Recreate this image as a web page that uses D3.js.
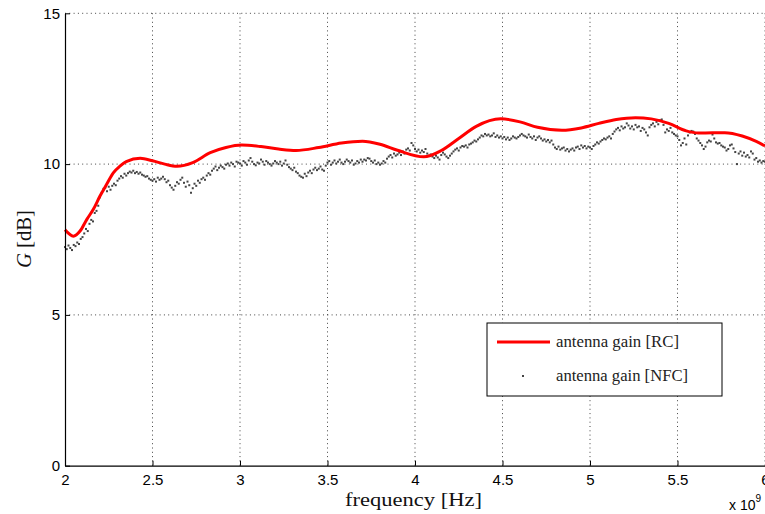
<!DOCTYPE html>
<html><head><meta charset="utf-8">
<script src="https://cdn.jsdelivr.net/npm/d3@7"></script>
<style>
html,body{margin:0;padding:0;background:#fff;}
svg{display:block;}
</style></head>
<body>
<svg id="chart" width="765" height="514"></svg>
<script>
// ---- data ----
const xTicks = [2, 2.5, 3, 3.5, 4, 4.5, 5, 5.5, 6];
const yTicks = [0, 5, 10, 15];
const xTickLabels = ["2", "2.5", "3", "3.5", "4", "4.5", "5", "5.5", "6"];
const yTickLabels = ["0", "5", "10", "15"];

// antenna gain [RC] (GHz, dB)
const rcFreq = [2.00, 2.048, 2.086, 2.124, 2.162, 2.20, 2.238, 2.276, 2.314, 2.35, 2.43, 2.50, 2.57, 2.64,
  2.73, 2.83, 2.92, 3.01, 3.12, 3.22, 3.32, 3.45, 3.58, 3.70, 3.80, 3.90, 4.05, 4.15, 4.25, 4.35, 4.49,
  4.60, 4.70, 4.84, 4.95, 5.05, 5.15, 5.26, 5.35, 5.45, 5.55, 5.62, 5.70, 5.77, 5.87, 5.95, 6.00];
const rcGain = [7.82, 7.61, 7.78, 8.16, 8.50, 8.94, 9.33, 9.71, 9.93, 10.08, 10.19, 10.11, 10.00, 9.93,
  10.05, 10.38, 10.55, 10.63, 10.58, 10.50, 10.45, 10.55, 10.70, 10.76, 10.66, 10.46, 10.24, 10.45, 10.85, 11.25, 11.50,
  11.40, 11.22, 11.12, 11.20, 11.35, 11.48, 11.54, 11.50, 11.35, 11.10, 11.03, 11.04, 11.04, 10.93, 10.75, 10.60];

// antenna gain [NFC]: measured every 10 MHz from 2.00 GHz
const nfcFreqStart = 2.0;
const nfcFreqStep = 0.01;
const nfcGain = [
  7.25, 7.18, 7.30, 7.22, 7.15, 7.32, 7.28, 7.40, 7.35, 7.52,
  7.58, 7.70, 7.85, 7.78, 8.02, 8.15, 8.10, 8.38, 8.45, 8.62,
  8.90, 9.05, 9.18, 9.22, 9.10, 9.25, 9.15, 9.28, 9.35, 9.30,
  9.45, 9.52, 9.60, 9.55, 9.68, 9.62, 9.70, 9.75, 9.72, 9.78,
  9.70, 9.74, 9.68, 9.72, 9.65, 9.62, 9.58, 9.60, 9.52, 9.48,
  9.45, 9.50, 9.42, 9.55, 9.48, 9.52, 9.58, 9.50, 9.40, 9.45,
  9.30, 9.22, 9.15, 9.28, 9.40, 9.35, 9.48, 9.55, 9.38, 9.25,
  9.42, 9.30, 9.05, 9.20, 9.35, 9.28, 9.45, 9.38, 9.50, 9.55,
  9.48, 9.62, 9.70, 9.65, 9.78, 9.85, 9.92, 9.80, 9.88, 9.95,
  9.90, 9.85, 9.98, 10.02, 9.95, 10.05, 10.00, 9.92, 10.08, 10.05,
  10.02, 9.95, 10.10, 10.05, 9.98, 10.12, 10.20, 10.08, 10.00, 9.96,
  10.05, 10.02, 10.15, 10.08, 9.98, 10.10, 10.05, 10.00, 9.95, 10.02,
  10.10, 10.05, 10.00, 10.08, 9.95, 10.02, 10.12, 9.98, 9.90, 9.85,
  9.80, 9.88, 9.75, 9.70, 9.62, 9.58, 9.55, 9.68, 9.60, 9.72,
  9.78, 9.70, 9.82, 9.88, 9.80, 9.85, 9.92, 9.82, 9.78, 9.95,
  10.05, 10.10, 9.98, 10.05, 10.12, 10.02, 10.08, 10.15, 10.05, 10.00,
  10.08, 10.15, 10.10, 10.05, 10.12, 9.98, 10.02, 10.10, 10.05, 10.15,
  10.08, 10.15, 10.12, 10.20, 10.18, 10.10, 10.05, 10.12, 10.00, 10.05,
  9.98, 10.02, 10.10, 10.05, 10.18, 10.25, 10.30, 10.22, 10.35, 10.28,
  10.32, 10.38, 10.30, 10.42, 10.35, 10.48, 10.52, 10.45, 10.70, 10.62,
  10.50, 10.42, 10.48, 10.38, 10.45, 10.40, 10.50, 10.35, 10.28, 10.32,
  10.25, 10.20, 10.28, 10.22, 10.15, 10.30, 10.38, 10.32, 10.25, 10.20,
  10.28, 10.35, 10.42, 10.48, 10.52, 10.45, 10.55, 10.60, 10.58, 10.62,
  10.55, 10.65, 10.68, 10.72, 10.78, 10.75, 10.82, 10.88, 10.95, 10.92,
  11.00, 10.95, 10.98, 10.92, 10.95, 11.02, 10.90, 10.95, 10.88, 10.92,
  10.85, 10.90, 10.82, 10.88, 10.80, 10.85, 10.92, 10.88, 10.85, 10.90,
  10.95, 11.00, 10.95, 10.92, 10.88, 10.98, 10.90, 10.85, 10.92, 10.80,
  10.88, 10.92, 10.85, 10.78, 10.82, 10.75, 10.80, 10.72, 10.78, 10.65,
  10.55, 10.50, 10.58, 10.48, 10.52, 10.55, 10.45, 10.50, 10.42, 10.48,
  10.52, 10.45, 10.55, 10.58, 10.50, 10.62, 10.55, 10.60, 10.52, 10.58,
  10.55, 10.50, 10.60, 10.65, 10.72, 10.68, 10.75, 10.80, 10.85, 10.82,
  10.88, 10.92, 10.85, 11.00, 11.08, 11.15, 11.20, 11.12, 11.25, 11.18,
  11.22, 11.35, 11.28, 11.18, 11.25, 11.15, 11.30, 11.22, 11.25, 11.10,
  11.20, 11.15, 11.05, 10.95, 11.22, 11.30, 11.35, 11.25, 11.40, 11.32,
  11.45, 11.48, 11.30, 11.05, 11.15, 11.10, 11.20, 11.05, 11.00, 10.95,
  10.92, 10.80, 10.62, 10.70, 10.85, 10.65, 10.95, 11.05, 11.10, 11.08,
  11.00, 10.85, 10.78, 10.70, 10.62, 10.50, 10.58, 10.72, 10.78, 10.75,
  10.98, 10.85, 10.72, 10.68, 10.70, 10.62, 10.58, 10.55, 10.45, 10.50,
  10.62, 10.65, 10.52, 10.40, 10.00, 10.35, 10.42, 10.28, 10.38, 10.25,
  10.30, 10.22, 10.42, 10.35, 10.15, 10.20, 10.08, 10.12, 10.05, 10.10,
  10.08
];

const legendLabels = ["antenna gain [RC]", "antenna gain [NFC]"];

// ---- drawing ----
const svg = d3.select("#chart");
const x = d3.scaleLinear().domain([2, 6]).range([65, 765]);
const y = d3.scaleLinear().domain([0, 15]).range([465.7, 13.3]);

const sans = "'Liberation Sans', Arial, Helvetica, sans-serif";
const serif = "'Liberation Serif', 'Times New Roman', serif";

// grid
const grid = svg.append("g");
grid.selectAll("line.gx").data(xTicks.filter(d => d > 2)).join("line")
  .attr("x1", d => x(d)).attr("x2", d => x(d))
  .attr("y1", y(0)).attr("y2", y(15))
  .attr("stroke", "#444").attr("stroke-width", 1).attr("stroke-dasharray", "1,3.3");
grid.selectAll("line.gy").data(yTicks.filter(d => d > 0)).join("line")
  .attr("x1", x(2)).attr("x2", x(6))
  .attr("y1", d => y(d)).attr("y2", d => y(d))
  .attr("stroke", "#444").attr("stroke-width", 1).attr("stroke-dasharray", "1,3.3");

// NFC dots
const nfc = nfcGain.map((g, i) => ({ f: nfcFreqStart + i * nfcFreqStep, g }));
svg.append("g").selectAll("rect").data(nfc).join("rect")
  .attr("x", d => x(d.f) - 1).attr("y", d => y(d.g) - 1)
  .attr("width", 2).attr("height", 2)
  .attr("fill", "#444");

// RC line
const rc = rcFreq.map((f, i) => ({ f, g: rcGain[i] }));
svg.append("path").datum(rc)
  .attr("fill", "none").attr("stroke", "#ff0000").attr("stroke-width", 3)
  .attr("stroke-linejoin", "round")
  .attr("d", d3.line().x(d => x(d.f)).y(d => y(d.g)).curve(d3.curveMonotoneX));

// axes
const xAxis = d3.axisBottom(x).tickValues(xTicks).tickFormat((d, i) => xTickLabels[i])
  .tickSizeInner(-5).tickSizeOuter(0).tickPadding(9);
const gx = svg.append("g").attr("transform", `translate(0,${y(0)})`).call(xAxis);
gx.select(".domain").attr("stroke", "#000").attr("stroke-width", 1.2);
gx.selectAll(".tick line").attr("stroke", "#000");
gx.selectAll("text").attr("font-family", sans).attr("font-size", 15).attr("fill", "#000");

const yAxis = d3.axisLeft(y).tickValues(yTicks).tickFormat((d, i) => yTickLabels[i])
  .tickSizeInner(-5).tickSizeOuter(0).tickPadding(5);
const gy = svg.append("g").attr("transform", `translate(${x(2)},0)`).call(yAxis);
gy.select(".domain").attr("stroke", "#000").attr("stroke-width", 1.2);
gy.selectAll(".tick line").attr("stroke", "#000");
gy.selectAll("text").attr("font-family", sans).attr("font-size", 15).attr("fill", "#000");

// axis labels
svg.append("text").attr("x", 413.5).attr("y", 506).attr("text-anchor", "middle")
  .attr("font-family", serif).attr("font-size", 18).attr("fill", "#111")
  .attr("textLength", 137).attr("lengthAdjust", "spacingAndGlyphs")
  .text("frequency [Hz]");

const yl = svg.append("text").attr("transform", "translate(31,239) rotate(-90)")
  .attr("text-anchor", "middle").attr("font-family", serif).attr("font-size", 20).attr("fill", "#111")
  .attr("textLength", 58).attr("lengthAdjust", "spacingAndGlyphs");
yl.append("tspan").attr("font-style", "italic").text("G");
yl.append("tspan").text(" [dB]");

// x 10^9
const ex = svg.append("text").attr("x", 729).attr("y", 510)
  .attr("font-family", sans).attr("font-size", 14).attr("fill", "#000");
ex.append("tspan").text("x 10");
ex.append("tspan").attr("dy", -8).attr("font-size", 10).text("9");

// legend
const lg = svg.append("g");
lg.append("rect").attr("x", 487).attr("y", 323).attr("width", 235).attr("height", 73)
  .attr("fill", "#fff").attr("stroke", "#000").attr("stroke-width", 1);
lg.append("line").attr("x1", 497).attr("x2", 550).attr("y1", 342).attr("y2", 342)
  .attr("stroke", "#ff0000").attr("stroke-width", 3);
lg.append("rect").attr("x", 522).attr("y", 375).attr("width", 2).attr("height", 2).attr("fill", "#444");
const legendWidths = [123, 132];
lg.selectAll("text").data(legendLabels).join("text")
  .attr("x", 556).attr("y", (d, i) => 347 + i * 34)
  .attr("font-family", serif).attr("font-size", 16).attr("fill", "#222")
  .attr("textLength", (d, i) => legendWidths[i]).attr("lengthAdjust", "spacingAndGlyphs")
  .text(d => d);
</script>
</body></html>
